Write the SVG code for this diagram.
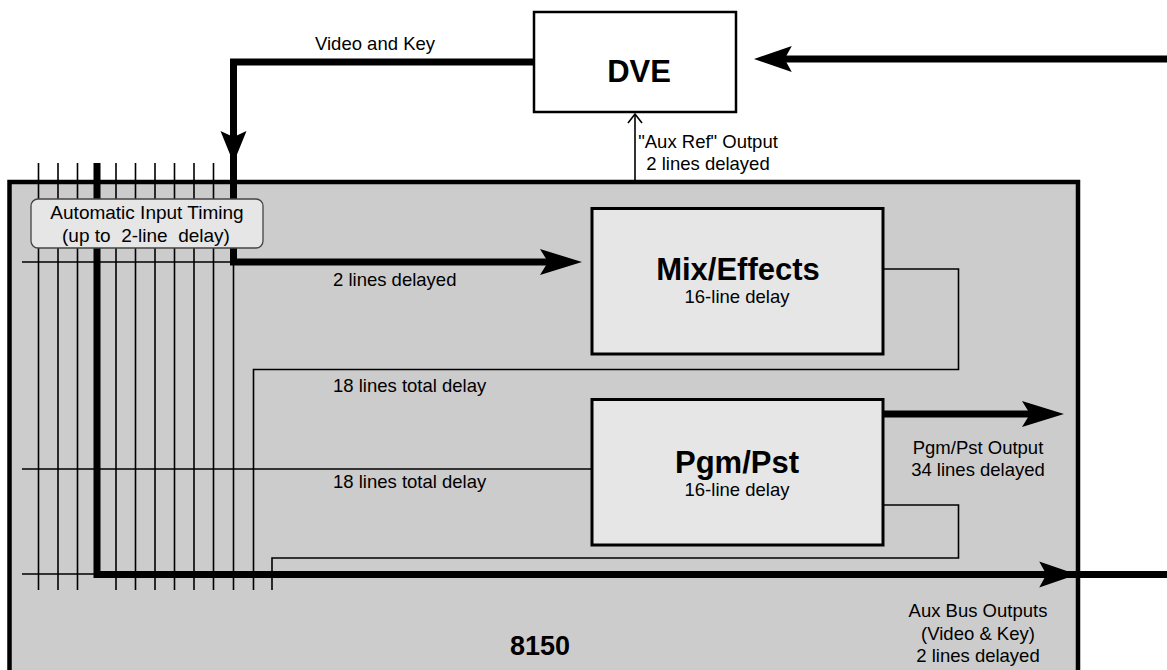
<svg xmlns="http://www.w3.org/2000/svg" width="1167" height="670" viewBox="0 0 1167 670">
<style>
.t{font-family:"Liberation Sans",Arial,sans-serif;font-size:18.5px;fill:#000}
.b{font-weight:bold;font-size:31px}
.m{text-anchor:middle}
.thin{fill:none;stroke:#000;stroke-width:1.6}
.thick{fill:none;stroke:#000;stroke-width:7}
.blk{fill:#e6e6e6;stroke:#000;stroke-width:3}
</style>
<defs>
<path id="ah" d="M0,0 L-42,-13 L-34,0 L-42,13 Z" fill="#000"/>
<path id="ahs" d="M0,0 L-32,-13 L-26,0 L-32,13 Z" fill="#000"/>
</defs>
<rect width="1167" height="670" fill="#fff"/>

<g id="main8150">
<rect x="9.5" y="182" width="1068.5" height="500" fill="#cccccc" stroke="#000" stroke-width="4.5"/>
<text class="t b m" x="540" y="655" style="font-size:27px">8150</text>
</g>

<g id="connectors">
<g class="thin">
<line x1="38.5" y1="163" x2="38.5" y2="590"/>
<line x1="58" y1="163" x2="58" y2="590"/>
<line x1="77.5" y1="163" x2="77.5" y2="590"/>
<line x1="116" y1="163" x2="116" y2="590"/>
<line x1="135.5" y1="163" x2="135.5" y2="590"/>
<line x1="155" y1="163" x2="155" y2="590"/>
<line x1="174.5" y1="163" x2="174.5" y2="590"/>
<line x1="194" y1="163" x2="194" y2="590"/>
<line x1="213.5" y1="163" x2="213.5" y2="590"/>
<line x1="233.5" y1="262" x2="233.5" y2="590"/>
<line x1="22" y1="262" x2="233.5" y2="262"/>
<line x1="22" y1="469" x2="592" y2="469"/>
<line x1="22" y1="574" x2="97" y2="574"/>
<polyline points="883,269 958.5,269 958.5,369.5 253.5,369.5 253.5,590"/>
<polyline points="883,505 958.5,505 958.5,558 272,558 272,590"/>
<line x1="635" y1="182" x2="635" y2="114"/>
<polyline points="628,123 635,114 642,123"/>
</g>
<polyline class="thick" points="534,62 233.5,62 233.5,262 560,262"/>
<polyline class="thick" points="97,163 97,574.5 1167,574.5"/>
<line class="thick" x1="883" y1="414" x2="1040" y2="414"/>
<line class="thick" x1="1167" y1="59" x2="780" y2="59"/>
<use href="#ah" transform="translate(582,262)"/>
<use href="#ahs" transform="translate(233.5,163) rotate(90)"/>
<use href="#ah" transform="translate(1064,414)"/>
<use href="#ah" transform="translate(1077,574.5) scale(0.9,1)"/>
<use href="#ah" transform="translate(754,59) rotate(180) scale(0.9,1)"/>
<text class="t" x="315" y="50">Video and Key</text>
<text class="t" x="333" y="286">2 lines delayed</text>
<text class="t" x="333" y="392">18 lines total delay</text>
<text class="t" x="333" y="488">18 lines total delay</text>
<text class="t m" x="708" y="148">"Aux Ref" Output</text>
<text class="t m" x="708" y="170">2 lines delayed</text>
<text class="t m" x="978" y="454">Pgm/Pst Output</text>
<text class="t m" x="978" y="476">34 lines delayed</text>
<text class="t m" x="978" y="617">Aux Bus Outputs</text>
<text class="t m" x="978" y="640">(Video &amp; Key)</text>
<text class="t m" x="978" y="662">2 lines delayed</text>
</g>

<g id="timing">
<rect x="31" y="199" width="232" height="49" rx="7" fill="#e6e6e6" stroke="#444" stroke-width="1.3"/>
<text class="t m" x="147" y="219" style="font-size:19px">Automatic Input Timing</text>
<text class="t m" x="146" y="242" style="font-size:19px;white-space:pre">(up to  2-line  delay)</text>
</g>

<g id="dve">
<rect x="534" y="12" width="202" height="100" fill="#fff" stroke="#000" stroke-width="2.5"/>
<text class="t b m" x="639" y="82">DVE</text>
</g>

<g id="mixeffects">
<rect class="blk" x="592" y="208.5" width="291" height="145.5"/>
<text class="t b m" x="738" y="280">Mix/Effects</text>
<text class="t m" x="737" y="303">16-line delay</text>
</g>

<g id="pgmpst">
<rect class="blk" x="592" y="399.5" width="291" height="145.5"/>
<text class="t b m" x="737" y="473">Pgm/Pst</text>
<text class="t m" x="737" y="496">16-line delay</text>
</g>
</svg>
